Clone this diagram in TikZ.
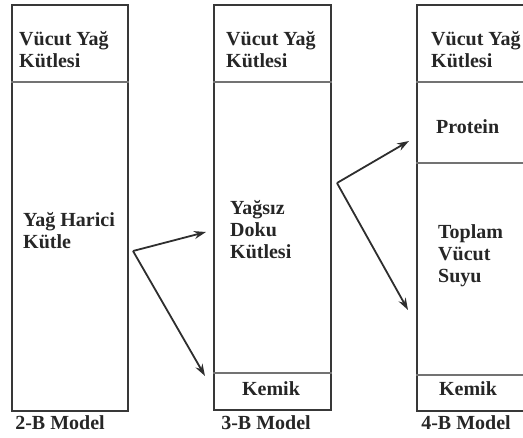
\documentclass[tikz,border=0pt]{standalone}
\usepackage{fontspec}
\setmainfont{Liberation Serif}
\usetikzlibrary{arrows.meta}
\begin{document}
\begin{tikzpicture}[x=1pt,y=-1pt,
  box/.style={draw=black!78, line width=2pt, rectangle, inner sep=0pt, anchor=north west},
  div/.style={draw=black!55, line width=1.2pt},
  lbl/.style={font=\fontsize{20}{22}\selectfont\bfseries, text=black!85, inner sep=0pt, anchor=north west, align=left},
  clbl/.style={font=\fontsize{20}{22}\selectfont\bfseries, text=black!85, inner sep=0pt, anchor=base},
  arr/.style={draw=black!82, line width=1.8pt, -{Stealth[length=12pt,width=8pt]}}]
\useasboundingbox (0,0) rectangle (523,438);
\clip (0,0) rectangle (523,438);
% boxes
\node[box, minimum width=116pt, minimum height=406pt] (b1) at (11,4) {};
\node[box, minimum width=117pt, minimum height=405pt] (b2) at (213,4) {};
\node[box, minimum width=117pt, minimum height=406pt] (b3) at (416,4) {};
% dividers
\draw[div] (b1.west |- 0,82) -- (b1.east |- 0,82);
\draw[div] (b2.west |- 0,82) -- (b2.east |- 0,82);
\draw[div] (b2.west |- 0,373) -- (b2.east |- 0,373);
\draw[div] (b3.west |- 0,82) -- (b3.east |- 0,82);
\draw[div] (b3.west |- 0,163) -- (b3.east |- 0,163);
\draw[div] (b3.west |- 0,375) -- (b3.east |- 0,375);
% labels
\node[lbl] (l1a) at (19,31) {Vücut Yağ\\Kütlesi};
\node[lbl] (l1b) at (23,212) {Yağ Harici\\Kütle};
\node[lbl] (l2a) at (226,31) {Vücut Yağ\\Kütlesi};
\node[lbl] (l2b) at (230,200) {Yağsız\\Doku\\Kütlesi};
\node[clbl] (l2c) at (271,396) {Kemik};
\node[lbl] (l3a) at (431,31) {Vücut Yağ\\Kütlesi};
\node[lbl] (l3b) at (436,119) {Protein};
\node[lbl] (l3c) at (438,224) {Toplam\\Vücut\\Suyu};
\node[clbl] (l3d) at (468,396) {Kemik};
\node[clbl] (m1) at (60,430) {2-B Model};
\node[clbl] (m2) at (266,430) {3-B Model};
\node[clbl] (m3) at (466,430) {4-B Model};
% arrows
\coordinate (v1) at (133,251);
\coordinate (t1a) at (206,232);
\coordinate (t1b) at (205,376);
\coordinate (v2) at (337,183);
\coordinate (t2a) at (409,141);
\coordinate (t2b) at (408,310);
\draw[arr] (v1) -- (t1a);
\draw[arr] (v1) -- (t1b);
\draw[arr] (v2) -- (t2a);
\draw[arr] (v2) -- (t2b);
\end{tikzpicture}
\end{document}
